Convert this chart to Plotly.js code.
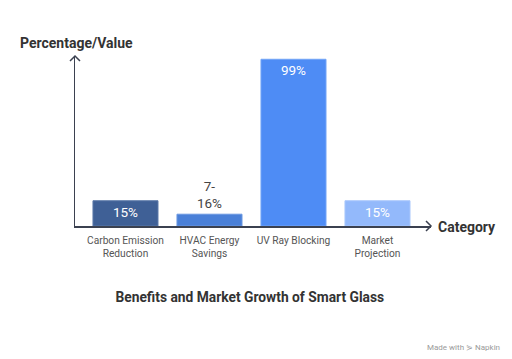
<!DOCTYPE html>
<html>
<head>
<meta charset="utf-8">
<script src="https://cdn.plot.ly/plotly-3.0.1.min.js"></script>
<style>
  html, body { margin: 0; padding: 0; background: #ffffff; }
  #chart { width: 512px; height: 359px; }
</style>
</head>
<body>
<div id="chart"></div>
<script>
// ---- data ----
const categories = ["Carbon Emission<br>Reduction", "HVAC Energy<br>Savings", "UV Ray Blocking", "Market<br>Projection"];
const values = [15, 7, 99, 15];
const valueLabels = ["15%", "7-<br>16%", "99%", "15%"];
const labelPositions = ["inside", "outside", "inside", "inside"];
const barColors = ["#3f6096", "#4a80d8", "#4e8cf5", "#93b9fb"];
const barEdgeColors = ["#5a78a8", "#6a97e0", "#72a4f7", "#a9c7fc"];

const chartTitle = "Benefits and Market Growth of Smart Glass";
const yTitle = "Percentage/Value";
const xTitle = "Category";

const axisColor = "#3b4150";
const FONT = "Roboto, 'Open Sans', sans-serif";

const trace = {
  type: "bar",
  x: categories,
  y: values,
  text: valueLabels,
  textposition: labelPositions,
  insidetextanchor: "end",
  constraintext: "none",
  cliponaxis: false,
  textfont: { family: FONT, size: 13.5 },
  insidetextfont: { family: FONT, size: 13.5, color: "#ffffff" },
  outsidetextfont: { family: FONT, size: 13.5, color: "#444444" },
  marker: { color: barColors, line: { color: barEdgeColors, width: 1 } },
  hoverinfo: "none"
};

const layout = {
  width: 512,
  height: 359,
  margin: { l: 75, r: 81, t: 56, b: 133, pad: 0 },
  paper_bgcolor: "#ffffff",
  plot_bgcolor: "#ffffff",
  showlegend: false,
  bargap: 0.226,
  font: { family: FONT, color: "#444444" },
  title: {
    text: chartTitle,
    font: { family: FONT, size: 13.8, color: "#333333", weight: "bold" },
    x: 0.491, xanchor: "center", xref: "paper",
    y: 0.171, yanchor: "middle", yref: "container"
  },
  xaxis: {
    type: "category",
    range: [-0.601, 3.637],
    showgrid: false, zeroline: false,
    showline: true, linecolor: axisColor, linewidth: 1.5,
    ticks: "", ticklabelstandoff: 4,
    tickfont: { family: FONT, size: 10.2, color: "#555555" },
    fixedrange: true
  },
  yaxis: {
    range: [0, 100.95],
    showgrid: false, zeroline: false,
    showline: true, linecolor: axisColor, linewidth: 1.5,
    showticklabels: false, ticks: "",
    fixedrange: true
  },
  shapes: [
    {
      type: "path", xref: "paper", yref: "paper",
      xsizemode: "pixel", ysizemode: "pixel",
      xanchor: 1, yanchor: 0,
      path: "M -5,5 L 0,0 L -5,-5",
      line: { color: axisColor, width: 1.5 }
    },
    {
      type: "path", xref: "paper", yref: "paper",
      xsizemode: "pixel", ysizemode: "pixel",
      xanchor: 0, yanchor: 1,
      path: "M -5,-5 L 0,0 L 5,-5",
      line: { color: axisColor, width: 1.5 }
    }
  ],
  annotations: [
    {
      text: yTitle, xref: "paper", yref: "paper",
      x: -0.160, xanchor: "left", y: 1.076, yanchor: "middle",
      showarrow: false,
      font: { family: FONT, size: 14, color: "#333333", weight: "bold" }
    },
    {
      text: xTitle, xref: "paper", yref: "paper",
      x: 1.014, xanchor: "left", y: -0.006, yanchor: "middle",
      showarrow: false,
      font: { family: FONT, size: 14, color: "#333333", weight: "bold" }
    },
    {
      text: "Made with \u22DF Napkin", xref: "paper", yref: "paper",
      x: 1.199, xanchor: "right", y: -0.712, yanchor: "middle",
      showarrow: false,
      font: { family: FONT, size: 8, color: "#9a9a9a" }
    }
  ]
};

Plotly.newPlot("chart", [trace], layout, { displayModeBar: false, staticPlot: true });
</script>
</body>
</html>
